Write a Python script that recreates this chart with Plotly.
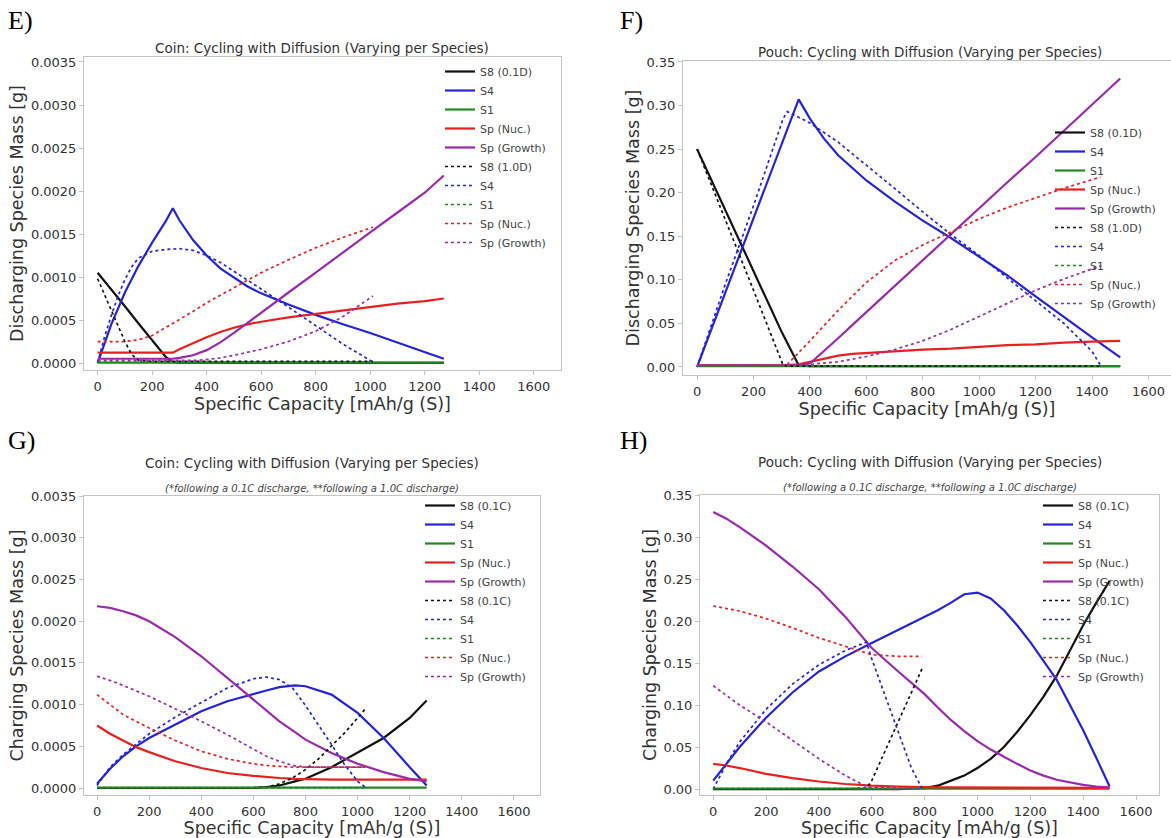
import plotly.graph_objects as go

W, H = 1171, 838

# ---------------- E) coin, discharge (values in mg) ----------------
e_solid_x = [0, 50, 100, 150, 200, 250, 276, 300, 350, 400, 450, 500, 550, 600, 700, 800, 900, 1000, 1100, 1200, 1270]
e_s8_mg = [1.05, 0.86, 0.66, 0.46, 0.26, 0.07, 0.01, 0.004, 0.003, 0.002, 0.002, 0.002, 0.001, 0.001, 0.001, 0.001, 0.001, 0.001, 0.001, 0.001, 0.001]
e_s4_mg = [0.0, 0.45, 0.82, 1.13, 1.40, 1.65, 1.80, 1.66, 1.43, 1.25, 1.10, 0.99, 0.89, 0.81, 0.68, 0.56, 0.45, 0.35, 0.24, 0.13, 0.05]
e_s1_mg = [0.005] * 21
e_nuc_mg = [0.12, 0.12, 0.12, 0.12, 0.12, 0.12, 0.12, 0.16, 0.23, 0.30, 0.36, 0.41, 0.45, 0.48, 0.53, 0.57, 0.61, 0.65, 0.69, 0.72, 0.75]
e_growth_mg = [0.05, 0.05, 0.05, 0.05, 0.05, 0.05, 0.05, 0.06, 0.09, 0.15, 0.24, 0.35, 0.47, 0.59, 0.82, 1.05, 1.29, 1.52, 1.75, 1.98, 2.18]

e_dot_x = [0, 25, 50, 75, 100, 125, 150, 200, 250, 300, 350, 400, 450, 500, 600, 700, 800, 900, 1000, 1010]
e_s8_dot_mg = [0.98, 0.80, 0.61, 0.42, 0.25, 0.10, 0.03, 0.02, 0.02, 0.02, 0.02, 0.02, 0.02, 0.02, 0.02, 0.02, 0.02, 0.02, 0.02, 0.02]
e_s4_dot_mg = [0.0, 0.30, 0.55, 0.78, 0.97, 1.12, 1.22, 1.30, 1.32, 1.33, 1.31, 1.25, 1.17, 1.07, 0.86, 0.65, 0.44, 0.22, 0.03, 0.01]
e_s1_dot_mg = [0.01] * 20
e_nuc_dot_mg = [0.25, 0.25, 0.25, 0.25, 0.25, 0.26, 0.27, 0.32, 0.41, 0.50, 0.60, 0.70, 0.79, 0.88, 1.05, 1.20, 1.34, 1.46, 1.57, 1.58]
e_growth_dot_mg = [0.03, 0.03, 0.03, 0.03, 0.03, 0.03, 0.03, 0.03, 0.03, 0.03, 0.03, 0.04, 0.06, 0.09, 0.16, 0.25, 0.37, 0.54, 0.76, 0.78]

# ---------------- F) pouch, discharge (values in g) ----------------
f_solid_x = [0, 100, 200, 300, 360, 400, 450, 500, 550, 600, 700, 800, 900, 1000, 1100, 1200, 1300, 1400, 1500]
f_s8_g = [0.25, 0.18, 0.11, 0.04, 0.002, 0.001, 0.001, 0.001, 0.001, 0.001, 0.001, 0.001, 0.001, 0.001, 0.001, 0.001, 0.001, 0.001, 0.001]
f_s4_g = [0.0, 0.085, 0.17, 0.255, 0.307, 0.285, 0.262, 0.243, 0.228, 0.214, 0.19, 0.168, 0.148, 0.127, 0.105, 0.081, 0.057, 0.034, 0.011]
f_s1_g = [0.001] * 19
f_nuc_g = [0.002, 0.002, 0.002, 0.002, 0.003, 0.006, 0.010, 0.013, 0.015, 0.016, 0.018, 0.020, 0.021, 0.023, 0.025, 0.026, 0.028, 0.029, 0.030]
f_growth_g = [0.002, 0.002, 0.002, 0.002, 0.002, 0.004, 0.018, 0.033, 0.048, 0.063, 0.093, 0.122, 0.152, 0.182, 0.212, 0.241, 0.271, 0.301, 0.331]

f_dot_x = [0, 100, 200, 305, 320, 400, 500, 600, 700, 800, 900, 1000, 1100, 1200, 1300, 1400, 1430]
f_s8_dot_g = [0.25, 0.17, 0.088, 0.002, 0.001, 0.001, 0.001, 0.001, 0.001, 0.001, 0.001, 0.001, 0.001, 0.001, 0.001, 0.001, 0.001]
f_s4_dot_g = [0.0, 0.095, 0.185, 0.285, 0.293, 0.28, 0.258, 0.232, 0.205, 0.178, 0.152, 0.128, 0.102, 0.076, 0.05, 0.018, 0.002]
f_s1_dot_g = [0.001] * 17
f_nuc_dot_g = [0.002, 0.002, 0.002, 0.002, 0.003, 0.030, 0.065, 0.097, 0.122, 0.140, 0.155, 0.170, 0.183, 0.194, 0.205, 0.215, 0.218]
f_growth_dot_g = [0.002, 0.002, 0.002, 0.002, 0.002, 0.003, 0.006, 0.012, 0.020, 0.030, 0.043, 0.058, 0.073, 0.088, 0.101, 0.113, 0.116]

# ---------------- G) coin, charge (values in mg) ----------------
g_solid_x = [0, 50, 100, 150, 200, 300, 400, 500, 600, 650, 700, 760, 800, 900, 1000, 1100, 1200, 1265]
g_s8_mg = [0, 0, 0, 0, 0, 0, 0, 0, 0.002, 0.01, 0.03, 0.08, 0.11, 0.25, 0.42, 0.60, 0.84, 1.05]
g_s4_mg = [0.05, 0.23, 0.38, 0.50, 0.60, 0.76, 0.92, 1.04, 1.13, 1.17, 1.21, 1.23, 1.22, 1.12, 0.90, 0.60, 0.25, 0.03]
g_s1_mg = [0.005] * 18
g_nuc_mg = [0.75, 0.65, 0.57, 0.49, 0.43, 0.32, 0.24, 0.18, 0.145, 0.13, 0.12, 0.11, 0.105, 0.10, 0.10, 0.10, 0.10, 0.10]
g_growth_mg = [2.18, 2.16, 2.12, 2.07, 2.00, 1.81, 1.58, 1.32, 1.05, 0.92, 0.80, 0.67, 0.58, 0.42, 0.29, 0.19, 0.11, 0.08]

g_dot_x = [0, 50, 100, 200, 300, 400, 500, 600, 650, 700, 750, 800, 850, 900, 950, 1000, 1030]
g_s8_dot_mg = [0, 0, 0, 0, 0, 0, 0, 0, 0.01, 0.05, 0.12, 0.22, 0.35, 0.50, 0.66, 0.84, 0.95]
g_s4_dot_mg = [0.03, 0.25, 0.40, 0.65, 0.85, 1.03, 1.20, 1.31, 1.33, 1.30, 1.20, 0.99, 0.76, 0.52, 0.28, 0.08, 0.01]
g_s1_dot_mg = [0.005] * 17
g_nuc_dot_mg = [1.12, 1.00, 0.88, 0.72, 0.57, 0.44, 0.35, 0.29, 0.27, 0.26, 0.25, 0.25, 0.25, 0.25, 0.25, 0.25, 0.25]
g_growth_dot_mg = [1.34, 1.29, 1.23, 1.10, 0.95, 0.80, 0.64, 0.46, 0.38, 0.32, 0.27, 0.25, 0.25, 0.25, 0.25, 0.25, 0.25]

# ---------------- H) pouch, charge (values in g) ----------------
h_solid_x = [0, 50, 100, 200, 300, 400, 500, 600, 700, 800, 850, 900, 950, 1000, 1050, 1100, 1150, 1200, 1250, 1300, 1350, 1400, 1450, 1500]
h_s8_g = [0, 0, 0, 0, 0, 0, 0, 0, 0, 0.001, 0.004, 0.010, 0.016, 0.025, 0.036, 0.050, 0.068, 0.088, 0.110, 0.135, 0.165, 0.195, 0.222, 0.248]
h_s4_g = [0.01, 0.03, 0.05, 0.085, 0.115, 0.14, 0.158, 0.174, 0.19, 0.205, 0.213, 0.222, 0.232, 0.234, 0.227, 0.213, 0.195, 0.175, 0.153, 0.13, 0.10, 0.07, 0.037, 0.003]
h_s1_g = [0.0005] * 24
h_nuc_g = [0.030, 0.028, 0.025, 0.018, 0.013, 0.009, 0.006, 0.004, 0.003, 0.002, 0.002, 0.002, 0.002, 0.0015, 0.0015, 0.0015, 0.0015, 0.0015, 0.0015, 0.0015, 0.0015, 0.0015, 0.0015, 0.0015]
h_growth_g = [0.33, 0.322, 0.312, 0.29, 0.265, 0.238, 0.205, 0.168, 0.14, 0.113, 0.097, 0.082, 0.069, 0.057, 0.047, 0.038, 0.030, 0.022, 0.016, 0.011, 0.008, 0.005, 0.003, 0.002]

h_dot_x = [0, 50, 100, 200, 300, 400, 500, 580, 600, 650, 700, 750, 790]
h_s8_dot_g = [0, 0, 0, 0, 0, 0, 0, 0.001, 0.010, 0.045, 0.080, 0.115, 0.143]
h_s4_dot_g = [0.0, 0.03, 0.056, 0.095, 0.125, 0.148, 0.165, 0.175, 0.155, 0.112, 0.068, 0.025, 0.001]
h_s1_dot_g = [0.0005] * 13
h_nuc_dot_g = [0.218, 0.215, 0.212, 0.203, 0.192, 0.18, 0.17, 0.162, 0.16, 0.159, 0.158, 0.158, 0.158]
h_growth_dot_g = [0.123, 0.112, 0.10, 0.08, 0.058, 0.036, 0.016, 0.003, 0.002, 0.002, 0.001, 0.001, 0.001]

# ---------------- labels ----------------
x_ticks = [0, 200, 400, 600, 800, 1000, 1200, 1400, 1600]
species = ["S8", "S4", "S1", "Sp (Nuc.)", "Sp (Growth)"]
colors = ["#111111", "#2424d8", "#1f8a1f", "#e8201e", "#9a2aac"]

fig = go.Figure()


def add_panel(xs_solid, solid, xs_dot, dotted, s8_solid, s8_dot, axis, legend, scale):
    xa, ya = ("x", "y") if axis == 1 else (f"x{axis}", f"y{axis}")
    for i, (name, vals) in enumerate(zip(species, solid)):
        fig.add_trace(go.Scatter(
            x=xs_solid, y=[v * scale for v in vals], mode="lines",
            name=s8_solid if i == 0 else name,
            line=dict(color=colors[i], width=2.2), xaxis=xa, yaxis=ya, legend=legend))
    for i, (name, vals) in enumerate(zip(species, dotted)):
        fig.add_trace(go.Scatter(
            x=xs_dot, y=[v * scale for v in vals], mode="lines",
            name=s8_dot if i == 0 else name,
            line=dict(color=colors[i], width=1.7, dash="dot"), xaxis=xa, yaxis=ya, legend=legend))


add_panel(e_solid_x, [e_s8_mg, e_s4_mg, e_s1_mg, e_nuc_mg, e_growth_mg],
          e_dot_x, [e_s8_dot_mg, e_s4_dot_mg, e_s1_dot_mg, e_nuc_dot_mg, e_growth_dot_mg],
          "S8 (0.1D)", "S8 (1.0D)", 1, "legend", 1e-3)
add_panel(f_solid_x, [f_s8_g, f_s4_g, f_s1_g, f_nuc_g, f_growth_g],
          f_dot_x, [f_s8_dot_g, f_s4_dot_g, f_s1_dot_g, f_nuc_dot_g, f_growth_dot_g],
          "S8 (0.1D)", "S8 (1.0D)", 2, "legend2", 1.0)
add_panel(g_solid_x, [g_s8_mg, g_s4_mg, g_s1_mg, g_nuc_mg, g_growth_mg],
          g_dot_x, [g_s8_dot_mg, g_s4_dot_mg, g_s1_dot_mg, g_nuc_dot_mg, g_growth_dot_mg],
          "S8 (0.1C)", "S8 (0.1C)", 3, "legend3", 1e-3)
add_panel(h_solid_x, [h_s8_g, h_s4_g, h_s1_g, h_nuc_g, h_growth_g],
          h_dot_x, [h_s8_dot_g, h_s4_dot_g, h_s1_dot_g, h_nuc_dot_g, h_growth_dot_g],
          "S8 (0.1C)", "S8 (0.1C)", 4, "legend4", 1.0)

SPINE = "#c4c4c4"
tick_font = dict(family="DejaVu Sans", size=13, color="#333333")
title_font = dict(family="DejaVu Sans", size=17.5, color="#333333")


def px_x(p):
    return p / W


def px_y(p):
    return 1 - p / H


def xaxis(left, right, rng, anchor, mirror=True):
    return dict(domain=[px_x(left), px_x(right)], range=rng, anchor=anchor,
                tickvals=x_ticks, showline=True, linecolor=SPINE, linewidth=1, mirror=mirror,
                ticks="outside", ticklen=4, tickcolor=SPINE, showgrid=False, zeroline=False,
                tickfont=tick_font, automargin=False,
                title=dict(text="Specific Capacity [mAh/g (S)]", font=title_font, standoff=2))


def yaxis(top, bottom, rng, anchor, dtick, fmt, label, mirror=True):
    return dict(domain=[px_y(bottom), px_y(top)], range=rng, anchor=anchor,
                dtick=dtick, tick0=0, tickformat=fmt, showline=True, linecolor=SPINE, linewidth=1,
                mirror=mirror, ticks="outside", ticklen=4, tickcolor=SPINE, showgrid=False,
                zeroline=False, tickfont=tick_font, automargin=False,
                title=dict(text=label, font=title_font, standoff=2))


def legend_at(left, top):
    return dict(x=px_x(left), y=px_y(top), xanchor="left", yanchor="top",
                bgcolor="rgba(255,255,255,0)", borderwidth=0,
                font=dict(family="DejaVu Sans", size=11, color="#444444"),
                tracegroupgap=0)


fig.update_layout(
    width=W, height=H, margin=dict(l=0, r=0, t=0, b=0),
    paper_bgcolor="white", plot_bgcolor="white",
    font=dict(family="DejaVu Sans", color="#333333"),
    xaxis=xaxis(84, 561, [-50, 1700], "y"),
    yaxis=yaxis(57, 370, [-0.000081, 0.003558], "x", 0.0005, ".4f", "Discharging Species Mass [g]"),
    xaxis2=xaxis(683, 1171, [-50, 1680], "y2"),
    yaxis2=yaxis(61, 375, [-0.0092, 0.3511], "x2", 0.05, ".2f", "Discharging Species Mass [g]", mirror=False),
    xaxis3=xaxis(84, 540, [-50, 1700], "y3"),
    yaxis3=yaxis(496, 795, [-0.000084, 0.003502], "x3", 0.0005, ".4f", "Charging Species Mass [g]"),
    xaxis4=xaxis(700, 1159, [-50, 1687], "y4"),
    yaxis4=yaxis(495, 795, [-0.0071, 0.3502], "x4", 0.05, ".2f", "Charging Species Mass [g]"),
    legend=legend_at(440, 57),
    legend2=legend_at(1050, 118),
    legend3=legend_at(420, 491),
    legend4=legend_at(1038, 491),
)

# panel titles, subtitles and letters
title_style = dict(family="DejaVu Sans", size=13.5, color="#333333")
sub_style = dict(family="DejaVu Sans", size=10, color="#444444")
letter_style = dict(family="Liberation Serif", size=26, color="#000000")

annotations = [
    (322, 48, "Coin: Cycling with Diffusion (Varying per Species)", title_style),
    (930, 52, "Pouch: Cycling with Diffusion (Varying per Species)", title_style),
    (312, 463, "Coin: Cycling with Diffusion (Varying per Species)", title_style),
    (930, 462, "Pouch: Cycling with Diffusion (Varying per Species)", title_style),
    (312, 488, "<i>(*following a 0.1C discharge, **following a 1.0C discharge)</i>", sub_style),
    (930, 487, "<i>(*following a 0.1C discharge, **following a 1.0C discharge)</i>", sub_style),
]
for cx, cy, text, style in annotations:
    fig.add_annotation(x=px_x(cx), y=px_y(cy), xref="paper", yref="paper", text=text,
                       showarrow=False, xanchor="center", yanchor="middle", font=style)

for lx, ly, text in [(6, 20, "E)"), (618, 20, "F)"), (6, 440, "G)"), (618, 440, "H)")]:
    fig.add_annotation(x=px_x(lx), y=px_y(ly), xref="paper", yref="paper", text=text,
                       showarrow=False, xanchor="left", yanchor="middle", font=letter_style)

fig.write_html("out.html")
